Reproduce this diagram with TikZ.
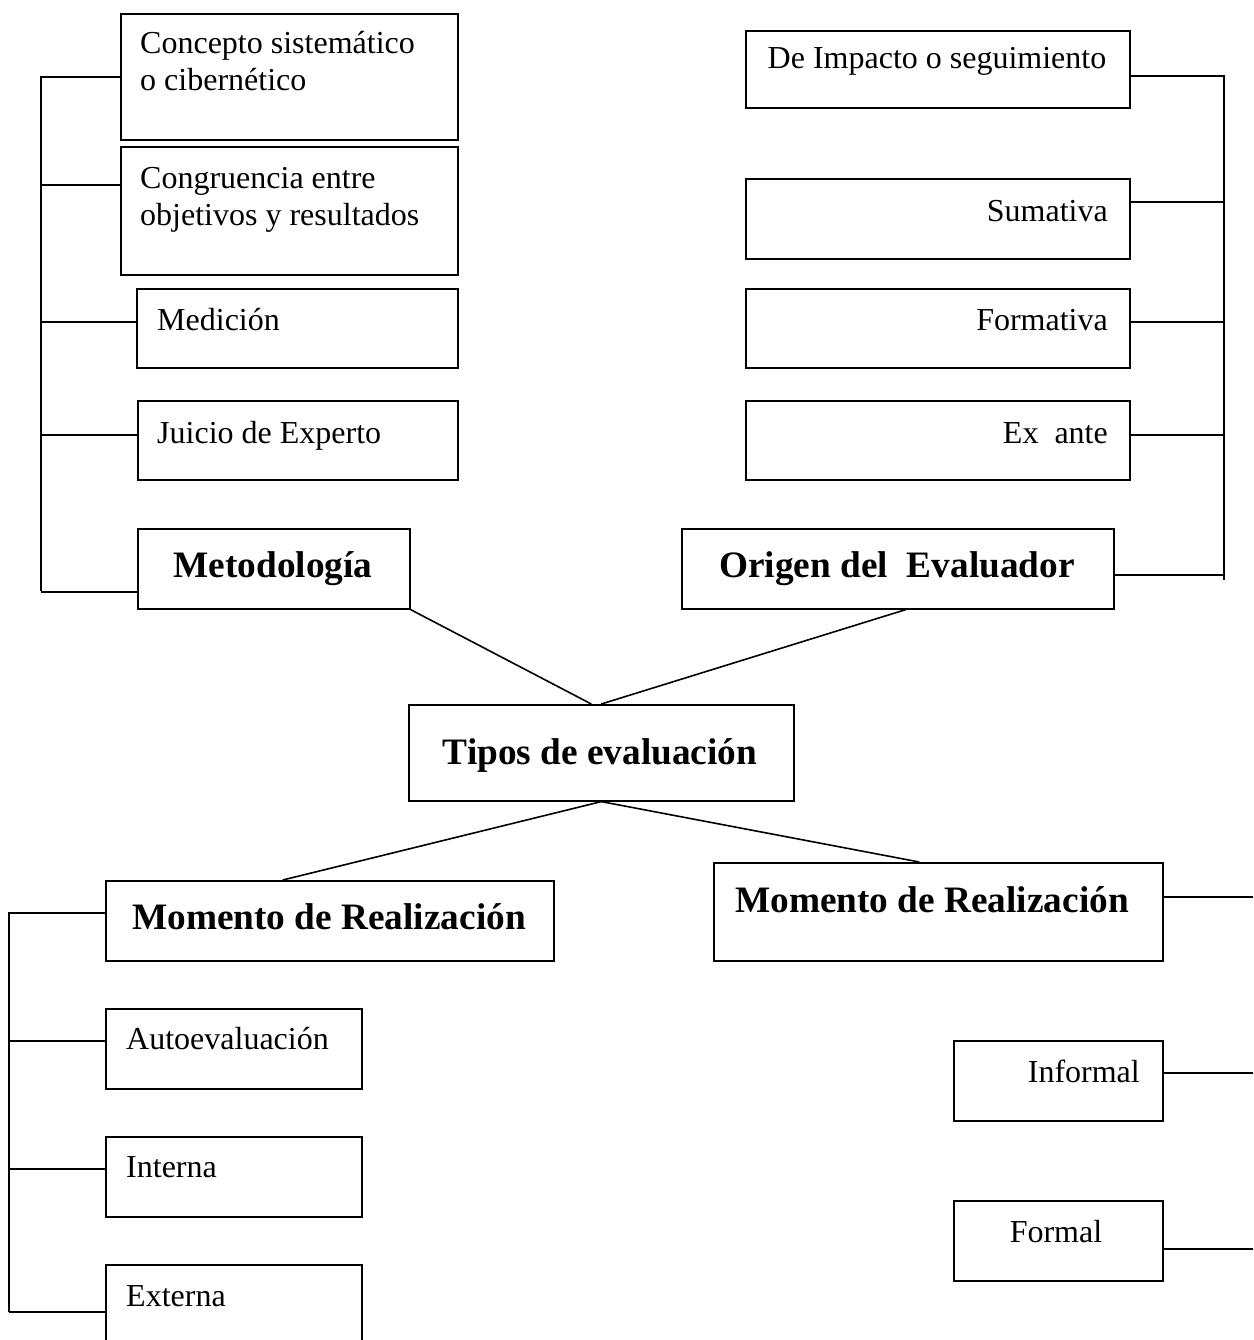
\documentclass[tikz,border=0pt]{standalone}
\usepackage{fontspec}
\setmainfont{Liberation Serif}
\begin{document}
\begin{tikzpicture}[x=1pt,y=-1pt,
  box/.style={draw,line width=1.6pt,inner sep=0pt,anchor=north west},
  txt/.style={inner sep=0pt,font=\fontsize{32}{37}\selectfont},
  btxt/.style={inner sep=0pt,font=\fontsize{37.3}{43}\selectfont\bfseries},
  conn/.style={line width=1.6pt}]
\clip (0,0) rectangle (1253,1340);
\fill[white] (0,0) rectangle (1253,1340);
% ---------- left top group
\node[box,minimum width=337pt,minimum height=126pt] (b1) at (120,13) {};
\node[txt,anchor=base west,align=left] (t1) at (140,91) {Concepto sistemático\\o cibernético};
\node[box,minimum width=337pt,minimum height=128pt] (b2) at (120,146) {};
\node[txt,anchor=base west,align=left] (t2) at (140,226) {Congruencia entre\\objetivos y resultados};
\node[box,minimum width=321pt,minimum height=79pt] (b3) at (136,288) {};
\node[txt,anchor=base west] (t3) at (157,330) {Medición};
\node[box,minimum width=320pt,minimum height=79pt] (b4) at (137,400) {};
\node[txt,anchor=base west] (t4) at (157,443) {Juicio de Experto};
\node[box,minimum width=272pt,minimum height=80pt] (met) at (137,528) {};
\node[btxt,anchor=base] (tmet) at (273,577) {Metodología};
\coordinate (Ltop) at (41,76);
\coordinate (Lbot) at (41,591);
\draw[conn] (Ltop) -- (Lbot);
\draw[conn] (b1.west) -- (b1.west -| Ltop);
\draw[conn] ([yshift=26pt]b2.west) -- ([yshift=26pt]b2.west -| Ltop);
\draw[conn] ([yshift=6.5pt]b3.west) -- ([yshift=6.5pt]b3.west -| Ltop);
\draw[conn] ([yshift=5.5pt]b4.west) -- ([yshift=5.5pt]b4.west -| Ltop);
\draw[conn] ([yshift=-23pt]met.west) -- ([yshift=-23pt]met.west -| Ltop);
% ---------- right top group
\node[box,minimum width=384pt,minimum height=77pt] (r1) at (745,30) {};
\node[txt,anchor=base] (s1) at (937,69) {De Impacto o seguimiento};
\node[box,minimum width=384pt,minimum height=80pt] (r2) at (745,178) {};
\node[txt,anchor=base east] (s2) at (1108,222) {Sumativa};
\node[box,minimum width=384pt,minimum height=79pt] (r3) at (745,288) {};
\node[txt,anchor=base east] (s3) at (1108,330) {Formativa};
\node[box,minimum width=384pt,minimum height=79pt] (r4) at (745,400) {};
\node[txt,anchor=base east] (s4) at (1108,443) {Ex\ \ ante};
\node[box,minimum width=432pt,minimum height=80pt] (ori) at (681,528) {};
\node[btxt,anchor=base] (tori) at (897,577) {Origen del\ \ Evaluador};
\coordinate (Rtop) at (1224,75);
\coordinate (Rbot) at (1224,580);
\draw[conn] (Rtop) -- (Rbot);
\draw[conn] ([yshift=-6.5pt]r1.east) -- ([yshift=-6.5pt]r1.east -| Rtop);
\draw[conn] ([yshift=17pt]r2.east) -- ([yshift=17pt]r2.east -| Rtop);
\draw[conn] ([yshift=6.5pt]r3.east) -- ([yshift=6.5pt]r3.east -| Rtop);
\draw[conn] ([yshift=5.5pt]r4.east) -- ([yshift=5.5pt]r4.east -| Rtop);
\draw[conn] ([yshift=-6pt]ori.east) -- ([yshift=-6pt]ori.east -| Rtop);
% ---------- centre
\node[box,minimum width=385pt,minimum height=96pt] (tip) at (408,704) {};
\node[btxt,anchor=base] (ttip) at (600,764) {Tipos de evaluación};
\draw[conn] (met.south east) -- ([xshift=-10pt]tip.north);
\draw[conn] ([xshift=8pt]ori.south) -- (tip.north);
% ---------- bottom left group
\node[box,minimum width=448pt,minimum height=80pt] (lm) at (105,880) {};
\node[btxt,anchor=base] (tlm) at (329,929) {Momento de Realización};
\node[box,minimum width=256pt,minimum height=80pt] (l1) at (105,1008) {};
\node[txt,anchor=base west] (u1) at (126,1049) {Autoevaluación};
\node[box,minimum width=256pt,minimum height=80pt] (l2) at (105,1136) {};
\node[txt,anchor=base west] (u2) at (126,1177) {Interna};
\node[box,minimum width=256pt,minimum height=110pt] (l3) at (105,1264) {};
\node[txt,anchor=base west] (u3) at (126,1306) {Externa};
\coordinate (BLtop) at (9,912);
\coordinate (BLbot) at (9,1312);
\draw[conn] (BLtop) -- (BLbot);
\draw[conn] ([yshift=8pt]lm.west) -- ([yshift=8pt]lm.west -| BLtop);
\draw[conn] ([yshift=8pt]l1.west) -- ([yshift=8pt]l1.west -| BLtop);
\draw[conn] ([yshift=8pt]l2.west) -- ([yshift=8pt]l2.west -| BLtop);
\draw[conn] ([yshift=-48pt]l3.north west) -- ([yshift=-48pt]l3.north west -| BLtop);
\draw[conn] (tip.south) -- ([xshift=-47pt]lm.north);
% ---------- bottom right group
\node[box,minimum width=449pt,minimum height=98pt] (rm) at (713,862) {};
\node[btxt,anchor=base west] (trm) at (735,912) {Momento de Realización};
\node[box,minimum width=209pt,minimum height=80pt] (q1) at (953,1040) {};
\node[txt,anchor=base east] (v1) at (1140,1082) {Informal};
\node[box,minimum width=209pt,minimum height=80pt] (q2) at (953,1200) {};
\node[txt,anchor=base] (v2) at (1056,1242) {Formal};
\coordinate (BRedge) at (1260,0);
\draw[conn] ([yshift=15pt]rm.east) -- ([yshift=15pt]rm.east -| BRedge);
\draw[conn] ([yshift=8pt]q1.east) -- ([yshift=8pt]q1.east -| BRedge);
\draw[conn] ([yshift=-8pt]q2.east) -- ([yshift=-8pt]q2.east -| BRedge);
\draw[conn] (tip.south) -- ([xshift=-19pt]rm.north);
\end{tikzpicture}
\end{document}
